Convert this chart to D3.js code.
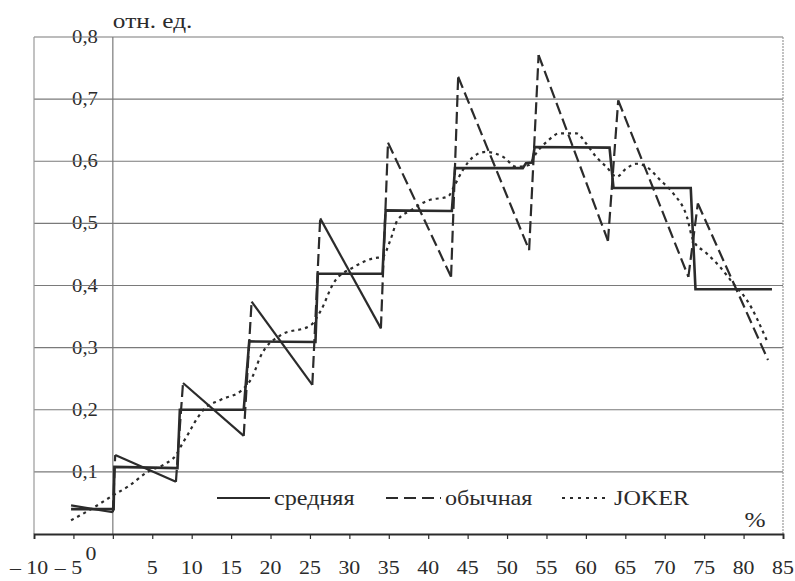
<!DOCTYPE html>
<html>
<head>
<meta charset="utf-8">
<script src="https://cdn.jsdelivr.net/npm/d3@7"></script>
<style>
  body { margin: 0; background: #fff; }
  svg { display: block; }
  text { font-family: "Liberation Serif", "DejaVu Serif", serif; }
</style>
</head>
<body>
<script>

// ---- data ----
const xTicks = [-10, -5, 0, 5, 10, 15, 20, 25, 30, 35, 40, 45, 50, 55, 60, 65, 70, 75, 80, 85];
const xTickLabels = ['– 10', '– 5', '0', '5', '10', '15', '20', '25', '30', '35', '40', '45', '50', '55', '60', '65', '70', '75', '80', '85'];
const yTicks = [0.1, 0.2, 0.3, 0.4, 0.5, 0.6, 0.7, 0.8];
const yTickLabels = ['0,1', '0,2', '0,3', '0,4', '0,5', '0,6', '0,7', '0,8'];

const seriesNames = ['средняя', 'обычная', 'JOKER'];

// средняя (solid, step)
const srednyaya = [
    [-5.3, 0.040], [0.1, 0.040], [0.2, 0.108], [8.2, 0.106], [8.5, 0.200],
    [16.6, 0.200], [17.3, 0.310], [25.7, 0.309], [26.0, 0.419], [34.2, 0.419],
    [34.6, 0.521], [43.0, 0.520], [43.4, 0.589], [52.0, 0.589], [52.4, 0.597],
    [53.2, 0.598], [53.5, 0.623], [63.0, 0.622], [63.5, 0.557], [73.3, 0.557],
    [73.9, 0.394], [83.6, 0.394]
];

// обычная (dashed, sawtooth)
const obychnaya = [
    [-5.3, 0.046], [0.0, 0.035], [0.3, 0.127], [8.0, 0.084], [8.9, 0.243],
    [16.6, 0.158], [17.6, 0.374], [25.3, 0.240], [26.3, 0.508], [34.0, 0.331],
    [34.9, 0.630], [42.9, 0.414], [43.8, 0.736], [52.8, 0.457], [54.0, 0.771],
    [62.8, 0.472], [64.1, 0.698], [73.0, 0.414], [74.2, 0.532], [83.1, 0.280]
];

// JOKER (dotted, smooth)
const joker = [
    [-5.3, 0.022], [-2.5, 0.042], [0, 0.062], [2, 0.077], [4.4, 0.100],
    [6.5, 0.112], [8, 0.127], [8.8, 0.145], [9.6, 0.162], [10.3, 0.178],
    [11.5, 0.200], [13.7, 0.216], [16.4, 0.232], [17.7, 0.253], [18.7, 0.285],
    [21.3, 0.320], [25.1, 0.336], [26.4, 0.360], [28, 0.404], [30.6, 0.430],
    [33.1, 0.444], [34.2, 0.446], [35.2, 0.473], [36.1, 0.505], [37.8, 0.521],
    [40, 0.537], [42.5, 0.543], [43.3, 0.560], [44.4, 0.586], [45.7, 0.607],
    [47.3, 0.615], [49.5, 0.607], [51.2, 0.591], [52.8, 0.594], [53.7, 0.613],
    [55, 0.631], [56.7, 0.645], [58.8, 0.645], [60, 0.629], [61.3, 0.607],
    [62.6, 0.591], [63.9, 0.575], [65.1, 0.588], [66.4, 0.596], [67.7, 0.591],
    [69.4, 0.570], [71.1, 0.548], [72.8, 0.511], [73.6, 0.473], [75.3, 0.452],
    [77, 0.430], [78.7, 0.403], [80.4, 0.377], [83.1, 0.307]
];

// ---- layout ----
const m = {
    width: 795,
    height: 581,
    left: 34,
    right: 783,
    top: 37,
    bottom: 534
}

const ink = '#2b2b2b'
const gridColor = '#7a7a7a'
const sx = 1.15 // the scan is stretched sideways a bit

const svg = d3.select('body').append('svg')
    .attr('width', m.width)
    .attr('height', m.height)

const x = d3.scaleLinear().domain([-10, 85]).range([m.left, m.right])
const y = d3.scaleLinear().domain([0, 0.8]).range([m.bottom, m.top])

// text with horizontal stretch
function label(px, py, str, size, anchor) {
    return svg.append('text')
        .attr('transform', `translate(${px},${py}) scale(${sx},1)`)
        .attr('text-anchor', anchor || 'start')
        .attr('font-family', 'Liberation Serif')
        .attr('font-size', size)
        .attr('fill', ink)
        .text(str)
}

// y tick labels (gridlines run through them)
yTicks.forEach((t, i) => {
    label(85, y(t) + 6, yTickLabels[i], 18, 'middle')
})

// horizontal gridlines
svg.append('g')
    .selectAll('line')
    .data(yTicks)
    .enter()
    .append('line')
        .attr('x1', m.left)
        .attr('x2', m.right)
        .attr('y1', d => y(d))
        .attr('y2', d => y(d))
        .attr('stroke', gridColor)
        .attr('stroke-width', 1.2)

// frame sides
svg.append('line')
    .attr('x1', m.left).attr('x2', m.left)
    .attr('y1', m.top).attr('y2', m.bottom)
    .attr('stroke', '#999').attr('stroke-width', 1.2)
svg.append('line')
    .attr('x1', m.right).attr('x2', m.right)
    .attr('y1', m.top).attr('y2', m.bottom)
    .attr('stroke', '#999').attr('stroke-width', 1.2)
    .attr('stroke-dasharray', '2,1')

// vertical line at zero
svg.append('line')
    .attr('x1', x(0)).attr('x2', x(0))
    .attr('y1', m.top).attr('y2', m.bottom)
    .attr('stroke', gridColor).attr('stroke-width', 1.2)

// x axis
const xAxis = svg.append('g')
    .attr('transform', `translate(0,${m.bottom})`)
    .call(d3.axisBottom(x).tickValues(xTicks).tickSize(5).tickFormat(''))
xAxis.select('.domain').attr('stroke', ink).attr('stroke-width', 1.8)
xAxis.selectAll('.tick line').attr('stroke', ink).attr('stroke-width', 1.2)

// x tick labels, the negative ones and zero sit a little off their ticks
xTicks.forEach((t, i) => {
    let dx = 0, py = 574
    if (t < 0) dx = -5
    if (t === 0) { dx = -22; py = 560 }
    label(x(t) + dx, py, xTickLabels[i], 19, 'middle')
})

// axis captions
label(x(0), 28, 'отн. ед.', 22, 'start')
label(755, 527, '%', 22, 'middle')

// ---- series ----
const line = d3.line()
    .x(d => x(d[0]))
    .y(d => y(d[1]))

svg.append('path')
    .datum(joker)
    .attr('d', line.curve(d3.curveMonotoneX))
    .attr('fill', 'none')
    .attr('stroke', ink)
    .attr('stroke-width', 2.2)
    .attr('stroke-dasharray', '3,4')

line.curve(d3.curveLinear)

// the dashed series: in the scan the first slopes come out solid
const pairs = d3.pairs(obychnaya)
svg.append('g')
    .selectAll('path')
    .data(pairs)
    .enter()
    .append('path')
        .attr('d', d => line(d))
        .attr('fill', 'none')
        .attr('stroke', ink)
        .attr('stroke-width', 2.2)
        .attr('stroke-dasharray', d => (d[1][0] - d[0][0] > 2 && d[1][0] < 35) ? null : '12,5')

svg.append('path')
    .datum(srednyaya)
    .attr('d', line)
    .attr('fill', 'none')
    .attr('stroke', ink)
    .attr('stroke-width', 2.6)

// ---- legend ----
const legend = [
    { name: seriesNames[0], dash: null, x0: 217, x1: 270 },
    { name: seriesNames[1], dash: '12,6', x0: 386, x1: 441 },
    { name: seriesNames[2], dash: '3,5', x0: 562, x1: 610 }
]
legend.forEach(d => {
    svg.append('line')
        .attr('x1', d.x0).attr('x2', d.x1)
        .attr('y1', 498).attr('y2', 498)
        .attr('stroke', ink)
        .attr('stroke-width', 2)
        .attr('stroke-dasharray', d.dash)
    label(d.x1 + 4, 505, d.name, 21, 'start')
})

</script>
</body>
</html>
